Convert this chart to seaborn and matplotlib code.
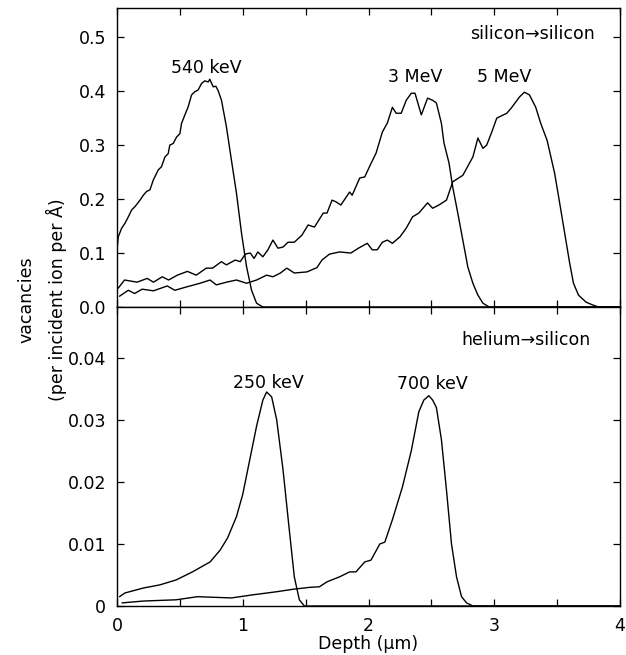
import matplotlib
matplotlib.use("Agg")
import matplotlib.pyplot as plt
from matplotlib.ticker import MultipleLocator
import seaborn as sns
import pandas as pd

# Silicon ions into silicon: depth (um) and vacancies per ion per angstrom
si540_depth = [0.0, 0.01, 0.037, 0.063, 0.09, 0.117, 0.143, 0.183, 0.209, 0.235,
               0.262, 0.288, 0.328, 0.354, 0.381, 0.407, 0.42, 0.447, 0.474, 0.5,
               0.513, 0.54, 0.566, 0.593, 0.619, 0.645, 0.672, 0.698, 0.725, 0.738,
               0.765, 0.786, 0.804, 0.831, 0.87, 0.91, 0.95, 0.99, 1.03, 1.07,
               1.11, 1.16, 4.0]
si540_vac = [0.106, 0.130, 0.146, 0.155, 0.167, 0.180, 0.186, 0.198, 0.207, 0.214,
             0.217, 0.235, 0.254, 0.260, 0.278, 0.284, 0.300, 0.303, 0.315, 0.321,
             0.340, 0.356, 0.371, 0.393, 0.399, 0.402, 0.414, 0.419, 0.417, 0.422,
             0.408, 0.409, 0.401, 0.383, 0.334, 0.272, 0.211, 0.137, 0.075, 0.031,
             0.007, 0.0, 0.0]

si3_depth = [0.01, 0.06, 0.16, 0.24, 0.29, 0.36, 0.41, 0.48, 0.56, 0.63,
             0.71, 0.76, 0.83, 0.87, 0.94, 0.98, 1.02, 1.06, 1.09, 1.12,
             1.16, 1.20, 1.24, 1.28, 1.32, 1.36, 1.41, 1.47, 1.52, 1.57,
             1.64, 1.67, 1.71, 1.74, 1.78, 1.85, 1.87, 1.93, 1.97, 2.02,
             2.06, 2.11, 2.15, 2.19, 2.22, 2.26, 2.30, 2.34, 2.37, 2.42,
             2.47, 2.51, 2.54, 2.58, 2.60, 2.64, 2.67, 2.71, 2.75, 2.79,
             2.83, 2.87, 2.91, 2.96, 4.0]
si3_vac = [0.035, 0.050, 0.046, 0.053, 0.046, 0.056, 0.050, 0.059, 0.066, 0.059,
           0.072, 0.072, 0.084, 0.078, 0.087, 0.084, 0.098, 0.100, 0.090, 0.102,
           0.093, 0.106, 0.124, 0.109, 0.111, 0.120, 0.120, 0.133, 0.152, 0.148,
           0.174, 0.174, 0.198, 0.195, 0.189, 0.213, 0.207, 0.239, 0.241, 0.266,
           0.285, 0.324, 0.341, 0.370, 0.359, 0.359, 0.383, 0.396, 0.396, 0.356,
           0.387, 0.383, 0.378, 0.340, 0.304, 0.267, 0.222, 0.174, 0.124, 0.074,
           0.044, 0.022, 0.007, 0.0, 0.0]

si5_depth = [0.02, 0.09, 0.14, 0.20, 0.29, 0.40, 0.46, 0.55, 0.66, 0.74,
             0.79, 0.87, 0.95, 1.03, 1.11, 1.19, 1.24, 1.30, 1.35, 1.41,
             1.51, 1.59, 1.63, 1.69, 1.77, 1.86, 1.92, 1.99, 2.03, 2.07,
             2.11, 2.15, 2.19, 2.25, 2.30, 2.35, 2.40, 2.47, 2.51, 2.56,
             2.62, 2.67, 2.75, 2.83, 2.87, 2.91, 2.94, 2.98, 3.02, 3.10,
             3.14, 3.20, 3.24, 3.28, 3.33, 3.37, 3.42, 3.48, 3.52, 3.56,
             3.60, 3.63, 3.67, 3.73, 3.78, 3.83, 4.0]
si5_vac = [0.020, 0.031, 0.025, 0.033, 0.030, 0.039, 0.031, 0.037, 0.044, 0.050,
           0.041, 0.046, 0.050, 0.044, 0.050, 0.059, 0.056, 0.063, 0.072, 0.063,
           0.065, 0.073, 0.087, 0.098, 0.102, 0.100, 0.109, 0.118, 0.106, 0.106,
           0.120, 0.124, 0.118, 0.130, 0.146, 0.167, 0.174, 0.193, 0.183, 0.189,
           0.198, 0.232, 0.244, 0.278, 0.313, 0.294, 0.300, 0.324, 0.350, 0.359,
           0.370, 0.389, 0.398, 0.393, 0.370, 0.340, 0.309, 0.248, 0.193, 0.137,
           0.081, 0.044, 0.022, 0.009, 0.004, 0.0, 0.0]

# Helium ions into silicon
he250_depth = [0.02, 0.063, 0.21, 0.34, 0.47, 0.60, 0.74, 0.82, 0.88, 0.95,
               1.00, 1.06, 1.11, 1.16, 1.19, 1.23, 1.27, 1.32, 1.37, 1.41,
               1.45, 1.49, 4.0]
he250_vac = [0.0015, 0.0021, 0.0029, 0.0034, 0.0042, 0.0055, 0.0071, 0.0090, 0.0110, 0.0144,
             0.0180, 0.0240, 0.0290, 0.0332, 0.0345, 0.0337, 0.0300, 0.0220, 0.0123, 0.0047,
             0.0010, 0.0, 0.0]

he700_depth = [0.04, 0.21, 0.47, 0.64, 0.91, 1.08, 1.27, 1.40, 1.53, 1.61,
               1.67, 1.77, 1.85, 1.90, 1.97, 2.02, 2.09, 2.13, 2.19, 2.27,
               2.34, 2.40, 2.44, 2.48, 2.51, 2.54, 2.58, 2.62, 2.66, 2.70,
               2.74, 2.78, 2.83, 4.0]
he700_vac = [0.0005, 0.0008, 0.0010, 0.0015, 0.0013, 0.0018, 0.0023, 0.0027, 0.0030, 0.0031,
             0.0039, 0.0047, 0.0055, 0.0055, 0.0071, 0.0074, 0.0100, 0.0103, 0.0139, 0.0192,
             0.0250, 0.0313, 0.0332, 0.0339, 0.0332, 0.0320, 0.0268, 0.0187, 0.0100, 0.0047,
             0.0015, 0.0005, 0.0, 0.0]

top_ticks = [0.0, 0.1, 0.2, 0.3, 0.4, 0.5]
top_ticklabels = ["0.0", "0.1", "0.2", "0.3", "0.4", "0.5"]
bottom_ticks = [0.0, 0.01, 0.02, 0.03, 0.04]
bottom_ticklabels = ["0", "0.01", "0.02", "0.03", "0.04"]
x_ticks = [0, 1, 2, 3, 4]


def frame(depth, vac, label):
    return pd.DataFrame({"depth": depth, "vac": vac, "beam": label})


silicon = pd.concat([frame(si540_depth, si540_vac, "540 keV"),
                     frame(si3_depth, si3_vac, "3 MeV"),
                     frame(si5_depth, si5_vac, "5 MeV")], ignore_index=True)
helium = pd.concat([frame(he250_depth, he250_vac, "250 keV"),
                    frame(he700_depth, he700_vac, "700 keV")], ignore_index=True)

sns.set_style("ticks")
plt.rcParams["font.family"] = ["DejaVu Sans"]
plt.rcParams.update({"text.color": "black", "axes.labelcolor": "black",
                     "xtick.color": "black", "ytick.color": "black"})
FS = 12.5

fig = plt.figure(figsize=(6.26, 6.55), dpi=100)
left, right = 117 / 626, 620 / 626
ax_top = fig.add_axes([left, 1 - 307 / 655, right - left, 299 / 655])
ax_bot = fig.add_axes([left, 1 - 606 / 655, right - left, 299 / 655])

for ax, data in ((ax_top, silicon), (ax_bot, helium)):
    for beam, grp in data.groupby("beam", sort=False):
        sns.lineplot(data=grp, x="depth", y="vac", ax=ax, color="black",
                     linewidth=1.0, sort=False, estimator=None)
    ax.set_xlim(0, 4)
    ax.xaxis.set_major_locator(MultipleLocator(1))
    ax.xaxis.set_minor_locator(MultipleLocator(0.5))
    ax.tick_params(which="both", direction="in", top=True, right=True,
                   length=5, width=0.9, labelsize=FS, pad=8,
                   colors="black", labelcolor="black")
    for sp in ax.spines.values():
        sp.set_linewidth(1.0)
        sp.set_color("black")
    ax.set_xlabel("")
    ax.set_ylabel("")

ax_top.set_ylim(0, 0.554)
ax_top.set_yticks(top_ticks, top_ticklabels)
ax_top.tick_params(axis="x", labelbottom=False)

ax_bot.set_ylim(0, 0.0482)
ax_bot.set_yticks(bottom_ticks, bottom_ticklabels)
ax_bot.set_xticks(x_ticks, [str(t) for t in x_ticks])
ax_bot.tick_params(axis="x", pad=8)
ax_bot.set_xlabel("Depth (\u03bcm)", fontsize=FS, labelpad=0, color="black")

# Curve annotations
ax_top.text(0.71, 0.443, "540 keV", ha="center", va="center", fontsize=FS)
ax_top.text(2.37, 0.426, "3 MeV", ha="center", va="center", fontsize=FS)
ax_top.text(3.08, 0.426, "5 MeV", ha="center", va="center", fontsize=FS)
ax_top.text(3.80, 0.505, "silicon\u2192silicon", ha="right", va="center", fontsize=FS)
ax_bot.text(1.20, 0.0360, "250 keV", ha="center", va="center", fontsize=FS)
ax_bot.text(2.51, 0.0358, "700 keV", ha="center", va="center", fontsize=FS)
ax_bot.text(3.77, 0.0429, "helium\u2192silicon", ha="right", va="center", fontsize=FS)

fig.text(42 / 626, 1 - 300 / 655, "vacancies\n(per incident ion per \u00c5)",
         rotation=90, ha="center", va="center", multialignment="center",
         fontsize=FS, linespacing=1.6, color="black")

fig.savefig("out.png", dpi=100)
